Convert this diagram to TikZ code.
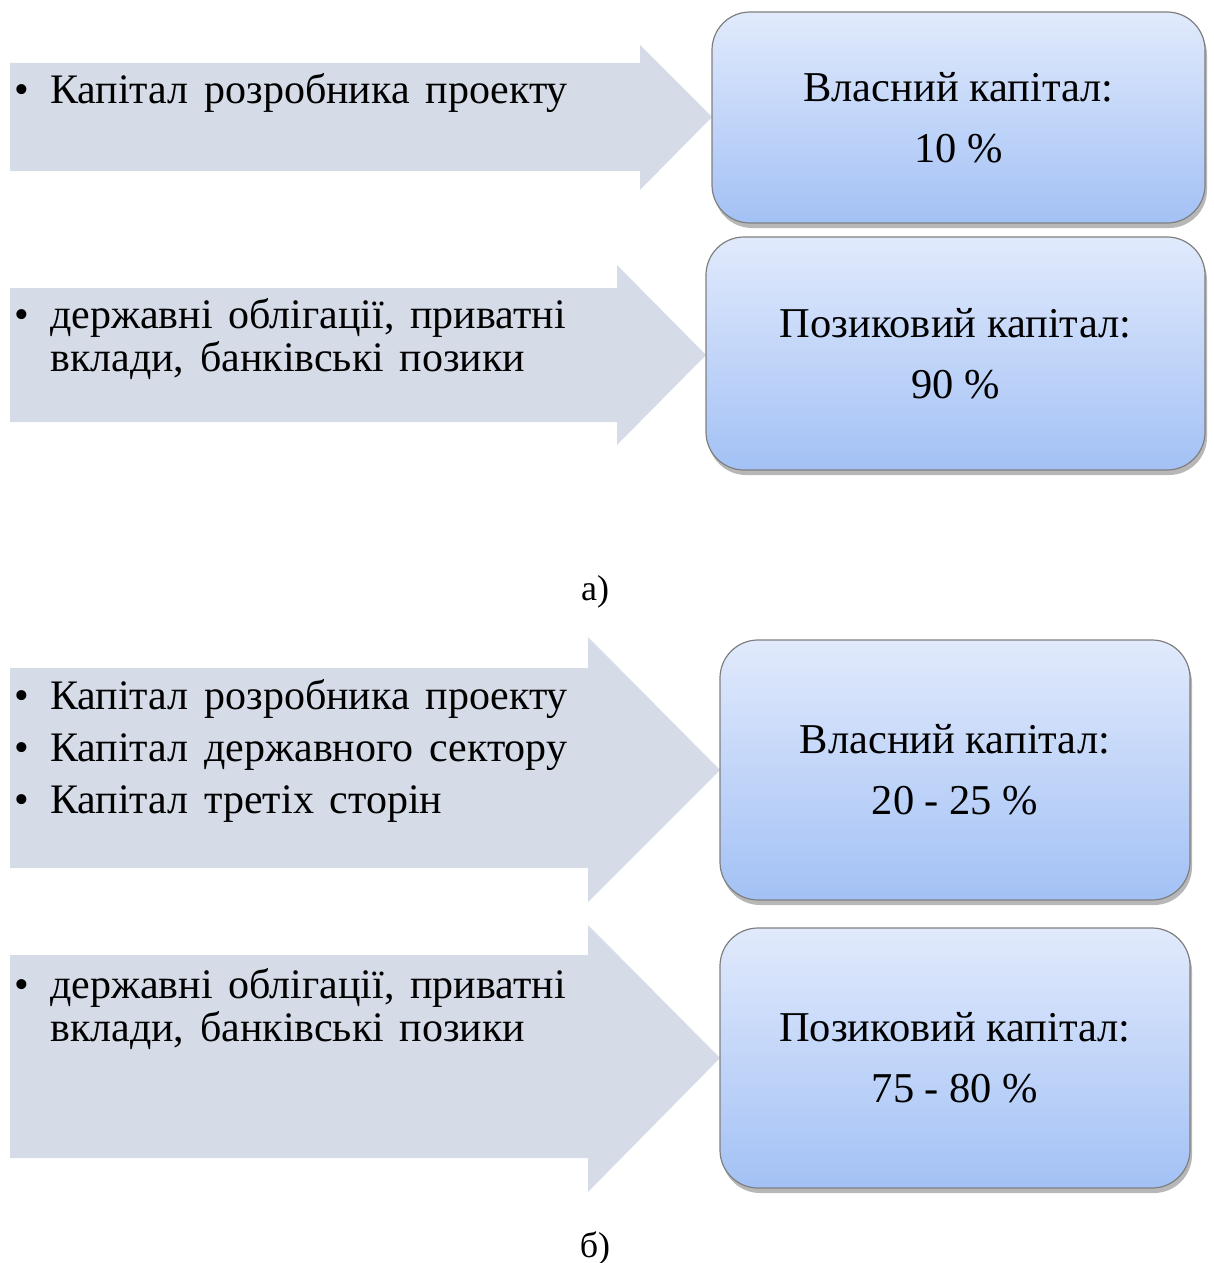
\documentclass[tikz,border=0pt]{standalone}
\usepackage{fontspec}
\setmainfont{Liberation Serif}
\newfontfamily\lefttxt[WordSpace=1.5]{Liberation Serif}
\usetikzlibrary{shadows}
\definecolor{arrowfill}{HTML}{D5DCE8}
\definecolor{boxtop}{HTML}{E1EAFC}
\definecolor{boxbot}{HTML}{A3C1F5}
\definecolor{boxline}{HTML}{7F7F7F}
\tikzset{
  capbox/.style={draw=boxline, line width=1.2pt, rounded corners=38pt,
    top color=boxtop, bottom color=boxbot, align=center,
    font=\fontsize{42.5}{61}\selectfont,
    drop shadow={opacity=0.4, shadow xshift=2pt, shadow yshift=-5pt, fill=black!70}},
  bigarrow/.style={fill=arrowfill, draw=none},
  txt/.style={anchor=base west, inner sep=0pt, font=\lefttxt\fontsize{42}{49}\selectfont},
  bul/.style={anchor=base west, inner sep=0pt, font=\fontsize{42}{49}\selectfont},
  figlabel/.style={inner sep=0pt, font=\fontsize{36}{40}\selectfont}
}
\begin{document}
\begin{tikzpicture}[x=1pt,y=-1pt]
\useasboundingbox (0,0) rectangle (1213,1263);
% arrows
\path[bigarrow] (10,63) -- (640,63) -- (640,45) -- (712,117) -- (640,190) -- (640,171) -- (10,171) -- cycle;
\path[bigarrow] (10,288) -- (617,288) -- (617,265) -- (706,355) -- (617,445) -- (617,422) -- (10,422) -- cycle;
\path[bigarrow] (10,668) -- (588,668) -- (588,637) -- (720,770) -- (588,902) -- (588,868) -- (10,868) -- cycle;
\path[bigarrow] (10,955) -- (588,955) -- (588,925) -- (720,1058) -- (588,1192) -- (588,1158) -- (10,1158) -- cycle;
% boxes
\node[capbox, minimum width=493pt, minimum height=211pt] (b1) at (958.5,117.5) {Власний капітал:\\10 \%};
\node[capbox, minimum width=499pt, minimum height=233pt] (b2) at (955.5,353.5) {Позиковий капітал:\\90 \%};
\node[capbox, minimum width=470pt, minimum height=260pt] (b3) at (955,770) {Власний капітал:\\20 - 25 \%};
\node[capbox, minimum width=470pt, minimum height=260pt] (b4) at (955,1058) {Позиковий капітал:\\75 - 80 \%};
% left texts
\node[bul] (p1) at (14,103) {•};
\node[txt] (t1) at (50,103) {Капітал розробника проекту};
\node[bul] (p2) at (14,328) {•};
\node[txt] (t2a) at (50,328) {державні облігації, приватні};
\node[txt] (t2b) at (50,371) {вклади, банківські позики};
\node[bul] (p3a) at (14,709) {•};
\node[txt] (t3a) at (50,709) {Капітал розробника проекту};
\node[bul] (p3b) at (14,761) {•};
\node[txt] (t3b) at (50,761) {Капітал державного сектору};
\node[bul] (p3c) at (14,813) {•};
\node[txt] (t3c) at (50,813) {Капітал третіх сторін};
\node[bul] (p4) at (14,998) {•};
\node[txt] (t4a) at (50,998) {державні облігації, приватні};
\node[txt] (t4b) at (50,1041) {вклади, банківські позики};
% captions
\node[figlabel] (la) at (595,592) {а)};
\node[figlabel] (lb) at (595,1248) {б)};
\end{tikzpicture}
\end{document}
